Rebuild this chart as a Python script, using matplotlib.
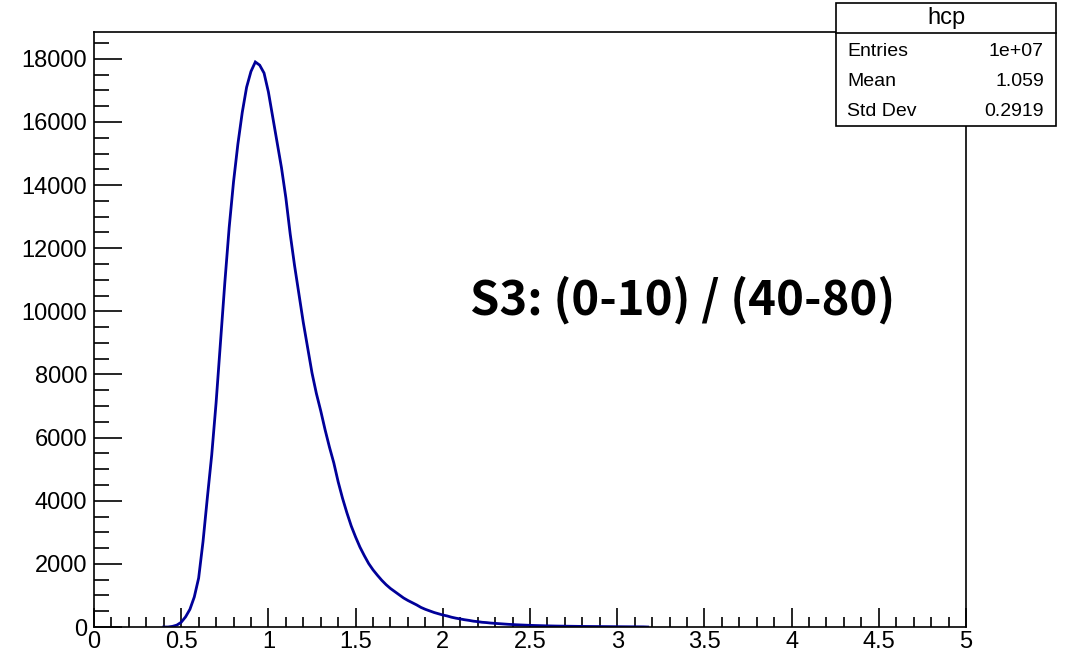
"""ROOT-style histogram of hcp ratio, S3: (0-10) / (40-80)."""
import numpy as np
import matplotlib
matplotlib.use("Agg")
import matplotlib.pyplot as plt
from matplotlib.patches import Rectangle
from matplotlib.lines import Line2D
from matplotlib.ticker import MultipleLocator

bin_start = 0.40
bin_width = 0.025
counts = [
    0, 0, 20, 60, 150, 320, 560, 950, 1550, 2700,
    4100, 5450, 7100, 9000, 10900, 12650, 14100, 15300, 16300, 17100,
    17600, 17900, 17800, 17550, 16950, 16150, 15350, 14550, 13600, 12450,
    11450, 10550, 9650, 8850, 8050, 7400, 6850, 6250, 5700, 5200,
    4600, 4080, 3620, 3200, 2850, 2530, 2260, 2010, 1810, 1640,
    1480, 1340, 1220, 1120, 1020, 920, 840, 770, 700, 620,
    560, 510, 460, 420, 380, 350, 310, 280, 255, 230,
    210, 185, 170, 150, 140, 125, 115, 105, 95, 85,
    78, 70, 64, 58, 52, 48, 44, 40, 36, 33,
    30, 28, 26, 24, 22, 20, 18, 17, 16, 15,
    14, 13, 12, 11, 10, 9, 8, 7, 7, 6,
    5, 0,
]
stat_names = ["Entries", "Mean", "Std Dev"]
stat_values = ["1e+07", "1.059", "0.2919"]
hist_name = "hcp"
label_text = "S3: (0-10) / (40-80)"
xtick_vals = [0, 0.5, 1, 1.5, 2, 2.5, 3, 3.5, 4, 4.5, 5]
xtick_text = ["0", "0.5", "1", "1.5", "2", "2.5", "3", "3.5", "4", "4.5", "5"]

W, H = 1066, 655
fig = plt.figure(figsize=(W / 100, H / 100), dpi=100)
ax = fig.add_axes([94 / W, 1 - 627 / H, (966 - 94) / W, (627 - 32) / H])

centers = bin_start + bin_width * np.arange(len(counts))
ax.plot(centers, counts, color="#000099", linewidth=2.0, solid_joinstyle="miter")

ax.set_xlim(0, 5)
ax.set_ylim(0, 18850)
ax.set_xticks(xtick_vals, xtick_text)
ax.xaxis.set_minor_locator(MultipleLocator(0.1))
ax.yaxis.set_major_locator(MultipleLocator(2000))
ax.yaxis.set_minor_locator(MultipleLocator(500))
for s in ax.spines.values():
    s.set_linewidth(1.2)
ax.tick_params(axis="both", which="both", direction="in", width=1.2,
               labelsize=17, top=False, right=False)
ax.tick_params(axis="y", which="major", length=20, pad=5)
ax.tick_params(axis="y", which="minor", length=11)
ax.tick_params(axis="x", which="major", length=14, pad=3)
ax.tick_params(axis="x", which="minor", length=7)
for lab in ax.get_xticklabels() + ax.get_yticklabels():
    lab.set_fontfamily("Liberation Sans")

ax.text(0.431, 0.55, label_text, transform=ax.transAxes, fontsize=34,
        fontweight="bold", family=["Noto Sans CJK SC", "DejaVu Sans"],
        va="center", ha="left")

# stats box
x0, x1, y0, y1 = 836, 1056, 3, 126
fig.patches.append(Rectangle((x0 / W, 1 - y1 / H), (x1 - x0) / W, (y1 - y0) / H,
                             transform=fig.transFigure, facecolor="white",
                             edgecolor="black", linewidth=1.2, zorder=10))
fig.lines.append(Line2D([x0 / W, x1 / W], [1 - 33 / H, 1 - 33 / H],
                        transform=fig.transFigure, color="black", linewidth=1.2,
                        zorder=11))
fig.text((x0 + x1) / 2 / W, 1 - 18 / H, hist_name, ha="center", va="center",
         fontsize=17, family="Liberation Sans", zorder=12)
for i, (n, v) in enumerate(zip(stat_names, stat_values)):
    yy = 1 - (51 + 30 * i) / H
    fig.text(847 / W, yy, n, ha="left", va="center", fontsize=14,
             family="Liberation Sans", zorder=12)
    fig.text(1044 / W, yy, v, ha="right", va="center", fontsize=14,
             family="Liberation Sans", zorder=12)

fig.savefig("out.png", dpi=100)
